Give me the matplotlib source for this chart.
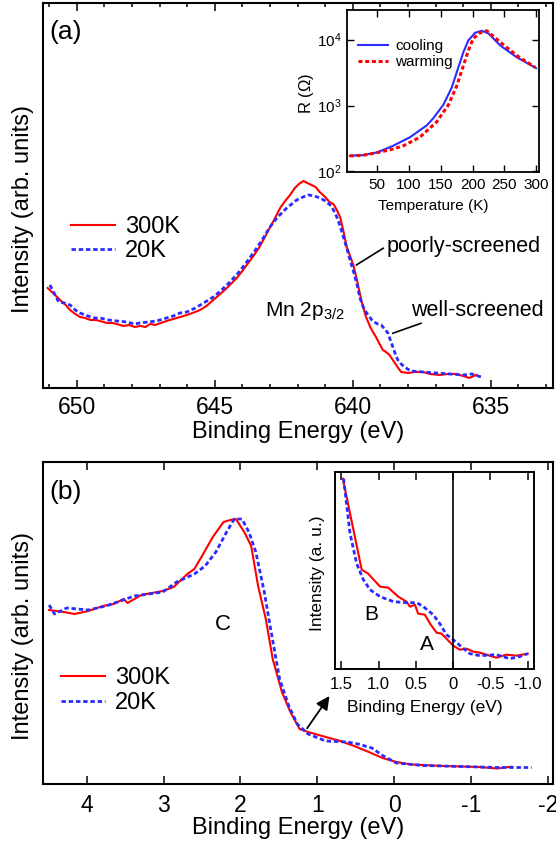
import matplotlib
matplotlib.use("Agg")
import matplotlib.pyplot as plt
from matplotlib.ticker import MultipleLocator, FixedLocator, NullLocator, LogLocator

plt.rcParams['font.family'] = ['Liberation Sans', 'DejaVu Sans']
plt.rcParams['mathtext.fontset'] = 'custom'
plt.rcParams['mathtext.rm'] = 'Liberation Sans'
plt.rcParams['mathtext.it'] = 'Liberation Sans:italic'
plt.rcParams['axes.unicode_minus'] = False

RED = '#ff0000'
BLUE = '#2b2bff'

# ---- panel (a): Mn 2p3/2 core level ----
mn_e_300 = [651.05, 650.9, 650.75, 650.6, 650.4, 650.24, 650.05, 649.88, 649.7, 649.5, 649.3, 649.16,
            648.9, 648.7, 648.55, 648.3, 648.1, 647.9, 647.7, 647.5, 647.34, 647.15, 646.95, 646.74,
            646.5, 646.25, 646.01, 645.8, 645.53, 645.3, 645.05, 644.8, 644.6, 644.45, 644.2, 644.0,
            643.84, 643.6, 643.4, 643.24, 643.05, 642.85, 642.63, 642.45, 642.27, 642.1, 641.95,
            641.79, 641.65, 641.5, 641.35, 641.2, 641.0, 640.85, 640.7, 640.58, 640.46, 640.34,
            640.22, 640.1, 639.98, 639.85, 639.67, 639.52, 639.37, 639.25, 639.16, 639.05, 638.91,
            638.8, 638.67, 638.55, 638.43, 638.33, 638.25, 638.0, 637.75, 637.46, 637.2, 636.86,
            636.55, 636.26, 636.0, 635.78, 635.53]
mn_i_300 = [100, 96, 92, 88, 83, 78, 74, 71, 70, 68, 68, 67,
            65, 65, 64, 62, 63, 61, 62, 61, 64, 63, 65, 67,
            69, 71, 73, 75, 78, 82, 88, 94, 99, 103, 110, 117,
            123, 132, 140, 148, 158, 168, 180, 187, 193, 200, 204,
            207, 205, 203, 201, 196, 191, 186, 184, 178, 171, 157,
            141, 132, 123, 108, 85, 71, 61, 55, 51, 45, 38,
            36, 33, 28, 23, 19, 16, 15, 16, 16, 14, 13,
            14, 14, 12, 10, 13]

mn_e_20 = [650.97, 650.8, 650.65, 650.45, 650.24, 650.05, 649.88, 649.6, 649.35, 649.16, 648.85,
           648.55, 648.2, 647.9, 647.7, 647.4, 647.1, 646.74, 646.5, 646.25, 646.01, 645.7, 645.4,
           645.05, 644.75, 644.45, 644.15, 643.84, 643.55, 643.24, 643.0, 642.75, 642.39, 642.03,
           641.8, 641.6, 641.4, 641.18, 641.0, 640.82, 640.7, 640.58, 640.46, 640.34, 640.22,
           640.1, 639.98, 639.86, 639.74, 639.62, 639.5, 639.31, 639.22, 639.1, 638.97, 638.85,
           638.73, 638.64, 638.55, 638.46, 638.37, 638.25, 638.13, 637.9, 637.46, 637.0, 636.5,
           636.0, 635.7, 635.35]
mn_i_20 = [103, 94, 86, 85, 83, 78, 75, 72, 70, 70, 68,
           67, 66, 64, 65, 66, 67, 70, 72, 75, 76, 80, 85,
           91, 98, 106, 115, 126, 137, 150, 161, 170, 180, 188,
           191, 193, 192, 190, 187, 183, 178, 171, 162, 151, 140,
           128, 117, 105, 90, 81, 75, 68, 66, 64, 63, 59,
           55, 48, 41, 34, 28, 24, 21, 17, 16, 15, 14,
           13, 14, 11]

# ---- inset (a): resistance ----
t_cool = [7, 28, 50, 75, 101.5, 128, 138, 154, 167, 177.6, 185.5, 193.4, 204, 214.5, 225, 243.3, 269.6, 300]
r_cool = [173, 177, 195, 245, 330, 500, 637, 1025, 1850, 3775, 6430, 9750, 12650, 13600, 12390, 8160, 5380, 3690]
t_warm = [7, 28, 50, 75, 91, 117, 143.6, 162, 175, 185.5, 193.4, 201, 212, 222.4, 243.3, 269.6, 298.5]
r_warm = [172, 176, 193, 219, 245, 330, 566, 1025, 1970, 4010, 6840, 10360, 12650, 13600, 9180, 5710, 3780]

# ---- panel (b): valence band ----
vb_e_300 = [4.49, 4.30, 4.16, 3.98, 3.79, 3.65, 3.52, 3.47, 3.29, 3.15, 3.01, 2.87, 2.69, 2.60,
            2.50, 2.36, 2.22, 2.13, 2.06, 1.95, 1.86, 1.77, 1.67, 1.58, 1.46, 1.35, 1.23, 1.12,
            0.89, 0.70, 0.52, 0.33, 0.15, -0.03, -0.22, -0.63, -1.1, -1.34, -1.53]
vb_i_300 = [174, 172, 170, 173, 178, 180, 185, 181, 189, 191, 193, 197, 210, 215,
            228, 247, 262, 264, 265, 252, 238, 198, 165, 125, 92, 72, 55, 52,
            47, 43, 38, 32, 26, 22, 19.5, 18, 17, 15.5, 17.3]

vb_e_20 = [4.49, 4.42, 4.26, 3.98, 3.75, 3.38, 3.01, 2.83, 2.60, 2.46, 2.32, 2.18, 2.08, 1.98,
           1.89, 1.80, 1.69, 1.60, 1.49, 1.37, 1.26, 1.12, 0.89, 0.61, 0.47, 0.29, 0.14, -0.03,
           -0.38, -0.87, -1.33, -1.79]
vb_i_20 = [179, 170, 176, 174, 178, 188, 192, 202, 210, 218, 232, 252, 265, 265,
           252, 232, 192, 152, 105, 78, 60, 50, 43, 42, 40, 36, 28, 21,
           18.5, 17.5, 16.5, 16.5]

# ---- inset (b): near Fermi level ----
ef_e_300 = [1.48, 1.227, 1.14, 0.98, 0.87, 0.737, 0.625, 0.58, 0.513, 0.47, 0.38, 0.31, 0.223,
            0.156, 0.09, 0.0, -0.089, -0.18, -0.27, -0.357, -0.49, -0.58, -0.714, -0.85, -1.0]
ef_i_300 = [190, 99, 95, 82, 81, 72, 67, 62, 64, 55, 54, 45, 36,
            35, 30, 23, 19, 20, 17, 16, 13, 11, 14, 13, 15]
ef_e_20 = [1.47, 1.383, 1.294, 1.205, 1.116, 0.98, 0.80, 0.625, 0.49, 0.40, 0.268, 0.179, 0.09,
           0.0, -0.11, -0.223, -0.357, -0.58, -0.758, -0.89, -1.0]
ef_i_20 = [190, 135, 105, 89, 79, 72, 67, 66, 66, 62, 54, 45, 34,
           29, 22, 15, 13, 14, 10, 12, 15]


def style_ticks(ax, size, major, minor=0, width=1.1):
    ax.tick_params(which='major', direction='in', length=major, width=width,
                   labelsize=size)
    ax.tick_params(which='minor', direction='in', length=minor, width=width)


fig = plt.figure(figsize=(5.56, 8.46), dpi=100)

# panel (a)
ax1 = fig.add_axes([0.0768, 0.5414, 0.9173, 0.4551])
ax1.plot(mn_e_300, mn_i_300, color=RED, lw=1.5, label='300K')
ax1.plot(mn_e_20, mn_i_20, color=BLUE, lw=2.0, ls=(0, (1.6, 1.0)), label='20K')
ax1.set_xlim(651.23, 632.76)
ax1.set_ylim(0, 385)
ax1.xaxis.set_major_locator(MultipleLocator(5))
ax1.xaxis.set_minor_locator(MultipleLocator(1))
ax1.yaxis.set_major_locator(NullLocator())
ax1.tick_params(top=True, bottom=True, left=False, right=False, which='both', pad=6)
style_ticks(ax1, 16.5, 6, 3)
ax1.set_xlabel('Binding Energy (eV)', fontsize=17, va='center')
ax1.xaxis.set_label_coords(0.5, -0.1135)
ax1.set_ylabel('Intensity (arb. units)', fontsize=17, va='center')
ax1.yaxis.set_label_coords(-0.0386, 0.465)
for s in ax1.spines.values():
    s.set_linewidth(1.5)
ax1.text(0.044, 0.925, '(a)', transform=ax1.transAxes, fontsize=19, ha='center', va='center')
ax1.legend(loc='center left', bbox_to_anchor=(0.0555, 0.387), frameon=False, fontsize=17,
           handlelength=1.85, handletextpad=0.45, labelspacing=0.1, borderpad=0, borderaxespad=0)
ax1.text(638.78, 141, 'poorly-screened', fontsize=15.5, ha='left', va='center')
ax1.plot([639.87, 638.9], [123, 139.7], color='black', lw=1.2)
ax1.text(637.89, 77, 'well-screened', fontsize=15.5, ha='left', va='center')
ax1.plot([638.55, 637.53], [54.7, 64.7], color='black', lw=1.2)
ax1.text(643.18, 77, r'Mn 2p$_{3/2}$', fontsize=15, ha='left', va='center')

# inset (a)
ax2 = fig.add_axes([0.6236, 0.7963, 0.3464, 0.1918])
ax2.semilogy(t_cool, r_cool, color=BLUE, lw=1.5, label='cooling')
ax2.semilogy(t_warm, r_warm, color=RED, lw=2.2, ls=(0, (1.3, 0.9)), label='warming')
ax2.set_xlim(2, 305)
ax2.set_ylim(97, 28000)
ax2.xaxis.set_major_locator(FixedLocator([50, 100, 150, 200, 250, 300]))
ax2.yaxis.set_major_locator(LogLocator(base=10, numticks=10))
ax2.yaxis.set_minor_locator(NullLocator())
ax2.tick_params(top=True, right=True, pad=4)
style_ticks(ax2, 11, 5, 0, 1.0)
ax2.set_xlabel('Temperature (K)', fontsize=11, va='center')
ax2.xaxis.set_label_coords(0.45, -0.206)
ax2.set_ylabel(r'R ($\Omega$)', fontsize=12, va='center')
ax2.yaxis.set_label_coords(-0.208, 0.487)
for s in ax2.spines.values():
    s.set_linewidth(1.3)
ax2.legend(loc='center left', bbox_to_anchor=(0.06, 0.728), frameon=False, fontsize=11,
           handlelength=1.95, handletextpad=0.45, labelspacing=0.1, borderpad=0, borderaxespad=0)

# panel (b)
ax3 = fig.add_axes([0.0768, 0.0733, 0.9173, 0.3806])
ax3.plot(vb_e_300, vb_i_300, color=RED, lw=1.5, label='300K')
ax3.plot(vb_e_20, vb_i_20, color=BLUE, lw=2.0, ls=(0, (1.6, 1.0)), label='20K')
ax3.set_xlim(4.574, -2.065)
ax3.set_ylim(0, 322)
ax3.xaxis.set_major_locator(MultipleLocator(1))
ax3.yaxis.set_major_locator(NullLocator())
ax3.tick_params(top=True, bottom=True, left=False, right=False, pad=7)
style_ticks(ax3, 16.5, 6)
ax3.set_xlabel('Binding Energy (eV)', fontsize=17, va='center')
ax3.xaxis.set_label_coords(0.5, -0.137)
ax3.set_ylabel('Intensity (arb. units)', fontsize=17, va='center')
ax3.yaxis.set_label_coords(-0.0386, 0.46)
for s in ax3.spines.values():
    s.set_linewidth(1.5)
ax3.text(0.045, 0.908, '(b)', transform=ax3.transAxes, fontsize=19, ha='center', va='center')
ax3.legend(loc='center left', bbox_to_anchor=(0.0359, 0.29), frameon=False, fontsize=17,
           handlelength=1.85, handletextpad=0.45, labelspacing=0.1, borderpad=0, borderaxespad=0)
ax3.text(2.227, 159, 'C', fontsize=16, ha='center', va='center')
ax3.annotate('', xy=(0.841, 88), xytext=(1.132, 55.7),
             arrowprops=dict(arrowstyle='-|>', color='black', lw=1.3, mutation_scale=20,
                             shrinkA=0, shrinkB=0))

# inset (b)
ax4 = fig.add_axes([0.6025, 0.2096, 0.3574, 0.2329])
ax4.plot(ef_e_300, ef_i_300, color=RED, lw=1.5)
ax4.plot(ef_e_20, ef_i_20, color=BLUE, lw=2.0, ls=(0, (1.6, 1.0)))
ax4.axvline(0, color='black', lw=1.2)
ax4.set_xlim(1.585, -1.08)
ax4.set_ylim(0, 197)
ax4.set_xticks([1.5, 1.0, 0.5, 0, -0.5, -1.0])
ax4.set_xticklabels(['1.5', '1.0', '0.5', '0', '-0.5', '-1.0'])
ax4.yaxis.set_major_locator(NullLocator())
ax4.tick_params(top=True, left=False, right=False, pad=6)
style_ticks(ax4, 12, 6)
ax4.set_xlabel('Binding Energy (eV)', fontsize=12.5, va='center')
ax4.xaxis.set_label_coords(0.454, -0.198)
ax4.set_ylabel('Intensity (a. u.)', fontsize=12.5, va='center')
ax4.yaxis.set_label_coords(-0.09, 0.486)
for s in ax4.spines.values():
    s.set_linewidth(1.4)
ax4.text(1.093, 53.7, 'B', fontsize=15, ha='center', va='center')
ax4.text(0.357, 23.7, 'A', fontsize=15, ha='center', va='center')

fig.savefig('out.png', dpi=100)
